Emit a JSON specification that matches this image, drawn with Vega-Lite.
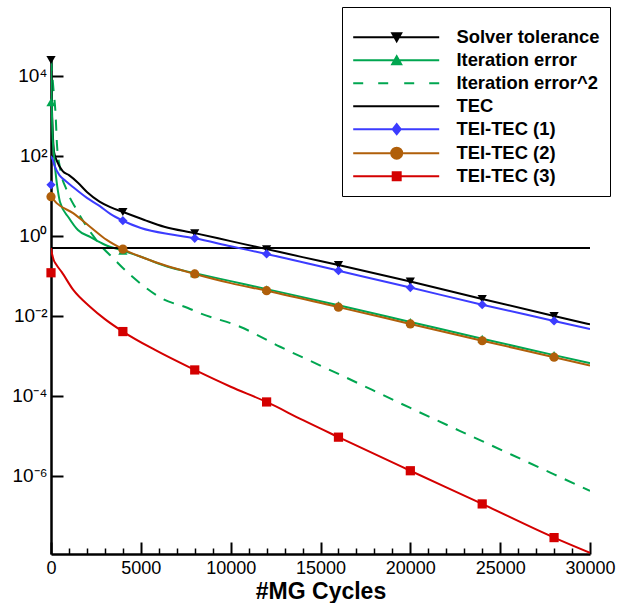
{
  "$schema": "https://vega.github.io/schema/vega-lite/v6.json",
  "width": 539,
  "height": 494,
  "autosize": "none",
  "padding": {"left": 51, "top": 60, "right": 31, "bottom": 49},
  "background": "white",
  "config": {
    "view": {"stroke": null},
    "font": "Liberation Sans",
    "axis": {
      "domainColor": "black", "domainWidth": 2.5, "tickColor": "black", "labelColor": "black",
      "titleColor": "black", "labelFont": "Liberation Sans", "labelFontSize": 18, "grid": false
    }
  },
  "datasets": {
    "lines": [
      {"s": "Solver tolerance", "x": 0, "y": 25000}, {"s": "Solver tolerance", "x": 40, "y": 2512},
      {"s": "Solver tolerance", "x": 100, "y": 355}, {"s": "Solver tolerance", "x": 170, "y": 126},
      {"s": "Solver tolerance", "x": 350, "y": 70.8}, {"s": "Solver tolerance", "x": 650, "y": 41.7},
      {"s": "Solver tolerance", "x": 1000, "y": 33.1}, {"s": "Solver tolerance", "x": 1500, "y": 21.4},
      {"s": "Solver tolerance", "x": 2000, "y": 12.6}, {"s": "Solver tolerance", "x": 2700, "y": 7.24},
      {"s": "Solver tolerance", "x": 3300, "y": 5.25}, {"s": "Solver tolerance", "x": 4000, "y": 3.98},
      {"s": "Solver tolerance", "x": 5200, "y": 2.51}, {"s": "Solver tolerance", "x": 6300, "y": 1.7},
      {"s": "Solver tolerance", "x": 8000, "y": 1.175}, {"s": "Solver tolerance", "x": 10000, "y": 0.741},
      {"s": "Solver tolerance", "x": 12000, "y": 0.468}, {"s": "Solver tolerance", "x": 14000, "y": 0.295},
      {"s": "Solver tolerance", "x": 16000, "y": 0.188}, {"s": "Solver tolerance", "x": 20000, "y": 0.0724},
      {"s": "Solver tolerance", "x": 24000, "y": 0.0266}, {"s": "Solver tolerance", "x": 28000, "y": 0.01},
      {"s": "Solver tolerance", "x": 30000, "y": 0.00617},

      {"s": "Iteration error", "x": 0, "y": 25000}, {"s": "Iteration error", "x": 30, "y": 3162},
      {"s": "Iteration error", "x": 60, "y": 794}, {"s": "Iteration error", "x": 100, "y": 251},
      {"s": "Iteration error", "x": 170, "y": 100}, {"s": "Iteration error", "x": 250, "y": 39.8},
      {"s": "Iteration error", "x": 350, "y": 17.0}, {"s": "Iteration error", "x": 500, "y": 7.08},
      {"s": "Iteration error", "x": 1000, "y": 2.82}, {"s": "Iteration error", "x": 1500, "y": 1.41},
      {"s": "Iteration error", "x": 2200, "y": 0.933}, {"s": "Iteration error", "x": 3000, "y": 0.603},
      {"s": "Iteration error", "x": 4000, "y": 0.427}, {"s": "Iteration error", "x": 5000, "y": 0.302},
      {"s": "Iteration error", "x": 6500, "y": 0.17}, {"s": "Iteration error", "x": 8000, "y": 0.1175},
      {"s": "Iteration error", "x": 10000, "y": 0.0741}, {"s": "Iteration error", "x": 12000, "y": 0.0468},
      {"s": "Iteration error", "x": 16000, "y": 0.0186}, {"s": "Iteration error", "x": 20000, "y": 0.00708},
      {"s": "Iteration error", "x": 24000, "y": 0.00269}, {"s": "Iteration error", "x": 28000, "y": 0.00105},
      {"s": "Iteration error", "x": 30000, "y": 0.00066},

      {"s": "Iteration error^2", "x": 0, "y": 25000}, {"s": "Iteration error^2", "x": 130, "y": 5012},
      {"s": "Iteration error^2", "x": 260, "y": 1000}, {"s": "Iteration error^2", "x": 330, "y": 200},
      {"s": "Iteration error^2", "x": 500, "y": 50.1}, {"s": "Iteration error^2", "x": 870, "y": 14.1},
      {"s": "Iteration error^2", "x": 1430, "y": 4.47}, {"s": "Iteration error^2", "x": 2350, "y": 1.0},
      {"s": "Iteration error^2", "x": 2730, "y": 0.6}, {"s": "Iteration error^2", "x": 3560, "y": 0.251},
      {"s": "Iteration error^2", "x": 4000, "y": 0.158}, {"s": "Iteration error^2", "x": 4950, "y": 0.0661},
      {"s": "Iteration error^2", "x": 6160, "y": 0.0275}, {"s": "Iteration error^2", "x": 7620, "y": 0.0158},
      {"s": "Iteration error^2", "x": 8290, "y": 0.01175}, {"s": "Iteration error^2", "x": 10520, "y": 0.00537},
      {"s": "Iteration error^2", "x": 12750, "y": 0.0017}, {"s": "Iteration error^2", "x": 16000, "y": 0.000355},
      {"s": "Iteration error^2", "x": 20000, "y": 0.0000501}, {"s": "Iteration error^2", "x": 24000, "y": 0.00000741},
      {"s": "Iteration error^2", "x": 28000, "y": 0.0000011}, {"s": "Iteration error^2", "x": 30000, "y": 0.000000422},

      {"s": "TEC", "x": 0, "y": 0.5}, {"s": "TEC", "x": 30000, "y": 0.5},

      {"s": "TEI-TEC (1)", "x": 0, "y": 100}, {"s": "TEI-TEC (1)", "x": 100, "y": 79.4},
      {"s": "TEI-TEC (1)", "x": 200, "y": 56.2}, {"s": "TEI-TEC (1)", "x": 500, "y": 31.6},
      {"s": "TEI-TEC (1)", "x": 800, "y": 24.0}, {"s": "TEI-TEC (1)", "x": 1200, "y": 17.0},
      {"s": "TEI-TEC (1)", "x": 2000, "y": 8.91}, {"s": "TEI-TEC (1)", "x": 2700, "y": 5.62},
      {"s": "TEI-TEC (1)", "x": 3300, "y": 3.55}, {"s": "TEI-TEC (1)", "x": 4000, "y": 2.4},
      {"s": "TEI-TEC (1)", "x": 5000, "y": 1.585}, {"s": "TEI-TEC (1)", "x": 6800, "y": 1.07},
      {"s": "TEI-TEC (1)", "x": 8000, "y": 0.871}, {"s": "TEI-TEC (1)", "x": 10000, "y": 0.55},
      {"s": "TEI-TEC (1)", "x": 12000, "y": 0.355}, {"s": "TEI-TEC (1)", "x": 16000, "y": 0.135},
      {"s": "TEI-TEC (1)", "x": 20000, "y": 0.0513}, {"s": "TEI-TEC (1)", "x": 24000, "y": 0.0191},
      {"s": "TEI-TEC (1)", "x": 28000, "y": 0.0075}, {"s": "TEI-TEC (1)", "x": 30000, "y": 0.00468},

      {"s": "TEI-TEC (2)", "x": 0, "y": 9.55}, {"s": "TEI-TEC (2)", "x": 315, "y": 6.61},
      {"s": "TEI-TEC (2)", "x": 1230, "y": 3.72}, {"s": "TEI-TEC (2)", "x": 2170, "y": 1.7},
      {"s": "TEI-TEC (2)", "x": 3100, "y": 0.794}, {"s": "TEI-TEC (2)", "x": 4000, "y": 0.468},
      {"s": "TEI-TEC (2)", "x": 5000, "y": 0.302}, {"s": "TEI-TEC (2)", "x": 6500, "y": 0.174},
      {"s": "TEI-TEC (2)", "x": 8000, "y": 0.112}, {"s": "TEI-TEC (2)", "x": 10000, "y": 0.0661},
      {"s": "TEI-TEC (2)", "x": 12000, "y": 0.0427}, {"s": "TEI-TEC (2)", "x": 16000, "y": 0.0166},
      {"s": "TEI-TEC (2)", "x": 20000, "y": 0.00631}, {"s": "TEI-TEC (2)", "x": 24000, "y": 0.0024},
      {"s": "TEI-TEC (2)", "x": 28000, "y": 0.000933}, {"s": "TEI-TEC (2)", "x": 30000, "y": 0.000575},

      {"s": "TEI-TEC (3)", "x": 0, "y": 0.5}, {"s": "TEI-TEC (3)", "x": 60, "y": 0.355},
      {"s": "TEI-TEC (3)", "x": 150, "y": 0.251}, {"s": "TEI-TEC (3)", "x": 300, "y": 0.19},
      {"s": "TEI-TEC (3)", "x": 590, "y": 0.126}, {"s": "TEI-TEC (3)", "x": 1240, "y": 0.0447},
      {"s": "TEI-TEC (3)", "x": 2170, "y": 0.017}, {"s": "TEI-TEC (3)", "x": 3000, "y": 0.00832},
      {"s": "TEI-TEC (3)", "x": 4000, "y": 0.00407}, {"s": "TEI-TEC (3)", "x": 5790, "y": 0.00141},
      {"s": "TEI-TEC (3)", "x": 8000, "y": 0.000447}, {"s": "TEI-TEC (3)", "x": 10000, "y": 0.00017},
      {"s": "TEI-TEC (3)", "x": 12000, "y": 0.0000708}, {"s": "TEI-TEC (3)", "x": 14000, "y": 0.0000251},
      {"s": "TEI-TEC (3)", "x": 16000, "y": 0.00000933}, {"s": "TEI-TEC (3)", "x": 20000, "y": 0.00000135},
      {"s": "TEI-TEC (3)", "x": 24000, "y": 0.0000002}, {"s": "TEI-TEC (3)", "x": 28000, "y": 0.0000000288},
      {"s": "TEI-TEC (3)", "x": 30000, "y": 0.000000012}
    ],
    "markers": [
      {"s": "Solver tolerance", "x": 0, "y": 25000}, {"s": "Solver tolerance", "x": 4000, "y": 3.98},
      {"s": "Solver tolerance", "x": 8000, "y": 1.175}, {"s": "Solver tolerance", "x": 12000, "y": 0.468},
      {"s": "Solver tolerance", "x": 16000, "y": 0.188}, {"s": "Solver tolerance", "x": 20000, "y": 0.0724},
      {"s": "Solver tolerance", "x": 24000, "y": 0.0266}, {"s": "Solver tolerance", "x": 28000, "y": 0.01},
      {"s": "Iteration error", "x": 0, "y": 2200}, {"s": "Iteration error", "x": 4000, "y": 0.427},
      {"s": "Iteration error", "x": 8000, "y": 0.1175}, {"s": "Iteration error", "x": 12000, "y": 0.0468},
      {"s": "Iteration error", "x": 16000, "y": 0.0186}, {"s": "Iteration error", "x": 20000, "y": 0.00708},
      {"s": "Iteration error", "x": 24000, "y": 0.00269}, {"s": "Iteration error", "x": 28000, "y": 0.00105},
      {"s": "TEI-TEC (1)", "x": 0, "y": 19}, {"s": "TEI-TEC (1)", "x": 4000, "y": 2.4},
      {"s": "TEI-TEC (1)", "x": 8000, "y": 0.871}, {"s": "TEI-TEC (1)", "x": 12000, "y": 0.355},
      {"s": "TEI-TEC (1)", "x": 16000, "y": 0.135}, {"s": "TEI-TEC (1)", "x": 20000, "y": 0.0513},
      {"s": "TEI-TEC (1)", "x": 24000, "y": 0.0191}, {"s": "TEI-TEC (1)", "x": 28000, "y": 0.0075},
      {"s": "TEI-TEC (2)", "x": 0, "y": 9.55}, {"s": "TEI-TEC (2)", "x": 4000, "y": 0.468},
      {"s": "TEI-TEC (2)", "x": 8000, "y": 0.112}, {"s": "TEI-TEC (2)", "x": 12000, "y": 0.0427},
      {"s": "TEI-TEC (2)", "x": 16000, "y": 0.0166}, {"s": "TEI-TEC (2)", "x": 20000, "y": 0.00631},
      {"s": "TEI-TEC (2)", "x": 24000, "y": 0.0024}, {"s": "TEI-TEC (2)", "x": 28000, "y": 0.000933},
      {"s": "TEI-TEC (3)", "x": 0, "y": 0.12}, {"s": "TEI-TEC (3)", "x": 4000, "y": 0.00407},
      {"s": "TEI-TEC (3)", "x": 8000, "y": 0.000447}, {"s": "TEI-TEC (3)", "x": 12000, "y": 0.0000708},
      {"s": "TEI-TEC (3)", "x": 16000, "y": 0.00000933}, {"s": "TEI-TEC (3)", "x": 20000, "y": 0.00000135},
      {"s": "TEI-TEC (3)", "x": 24000, "y": 0.0000002}, {"s": "TEI-TEC (3)", "x": 28000, "y": 0.0000000288}
    ]
  },
  "encoding": {
    "x": {
      "field": "x", "type": "quantitative",
      "scale": {"domain": [0, 30000], "nice": false, "zero": false},
      "axis": {
        "values": [0,1000,2000,3000,4000,5000,6000,7000,8000,9000,10000,11000,12000,13000,14000,15000,16000,17000,18000,19000,20000,21000,22000,23000,24000,25000,26000,27000,28000,29000,30000],
        "format": "d",
        "labelExpr": "datum.value % 5000 === 0 ? datum.label : ''",
        "tickSize": {"condition": {"test": "datum.value % 5000 === 0", "value": -12}, "value": -6},
        "tickWidth": {"condition": {"test": "datum.value % 5000 === 0", "value": 2}, "value": 1.5},
        "labelPadding": 17,
        "labelFlush": false,
        "labelOverlap": false,
        "title": "#MG Cycles", "titleFontSize": 23, "titleFontWeight": "bold", "titleFont": "Liberation Sans",
        "titlePadding": -3
      }
    },
    "y": {
      "field": "y", "type": "quantitative",
      "scale": {"type": "log", "domain": [1.12e-8, 25000], "nice": false},
      "axis": {
        "values": [0.000001, 0.0001, 0.01, 1, 100, 10000],
        "labelExpr": "datum.value > 5000 ? '10⁴' : datum.value > 50 ? '10²' : datum.value > 0.5 ? '10⁰' : datum.value > 0.005 ? '10⁻²' : datum.value > 0.00005 ? '10⁻⁴' : '10⁻⁶'",
        "tickSize": -12, "tickWidth": 2, "labelPadding": 16, "labelFontSize": 19,
        "labelOverlap": false, "labelFlush": false,
        "title": null
      }
    },
    "color": {
      "field": "s", "type": "nominal",
      "scale": {
        "domain": ["Solver tolerance", "Iteration error", "Iteration error^2", "TEC", "TEI-TEC (1)", "TEI-TEC (2)", "TEI-TEC (3)"],
        "range": ["#000000", "#00A650", "#00A650", "#000000", "#3C3CFF", "#B05F0A", "#D40000"]
      },
      "legend": null
    }
  },
  "resolve": {"legend": {"color": "independent"}},
  "layer": [
    {
      "data": {"name": "lines"},
      "transform": [{"filter": "datum.s === 'Iteration error^2'"}],
      "mark": {"type": "line", "strokeWidth": 2, "strokeDash": [11, 9], "interpolate": "monotone", "clip": true}
    },
    {
      "data": {"name": "lines"},
      "transform": [{"filter": "datum.s !== 'Iteration error^2'"}],
      "mark": {"type": "line", "strokeWidth": 2, "interpolate": "monotone", "clip": true},
      "encoding": {
        "color": {
          "field": "s", "type": "nominal",
          "legend": {
            "orient": "none", "legendX": 291, "legendY": -53,
            "title": " ", "titleFontSize": 10, "titlePadding": 1,
            "strokeColor": "black", "fillColor": "white", "padding": 10,
            "labelFont": "Liberation Sans", "labelFontSize": 18.4, "labelFontWeight": "bold", "labelColor": "black",
            "symbolSize": 4, "symbolStrokeWidth": 2, "labelOffset": 86, "rowPadding": 4, "labelLimit": 0,
            "values": ["Solver tolerance", "Iteration error", "Iteration error^2", "TEC", "TEI-TEC (1)", "TEI-TEC (2)", "TEI-TEC (3)"],
            "encoding": {
              "symbols": {
                "shape": {
                  "condition": [
                    {"test": "datum.value === 'Solver tolerance'", "value": "M-8,0H78M31,-4L40,-4L35.5,4Z"},
                    {"test": "datum.value === 'Iteration error'", "value": "M-8,0H78M31,4L40,4L35.5,-4Z"},
                    {"test": "datum.value === 'Iteration error^2'", "value": "M-8,0H2M17,0H27M43,0H53M68,0H78"},
                    {"test": "datum.value === 'TEI-TEC (1)'", "value": "M-8,0H78M35.5,-5L39.5,0L35.5,5L31.5,0Z"},
                    {"test": "datum.value === 'TEI-TEC (2)'", "value": "M-8,0H78M41,0A5.5,5.5,0,1,1,30,0A5.5,5.5,0,1,1,41,0Z"},
                    {"test": "datum.value === 'TEI-TEC (3)'", "value": "M-8,0H78M31.5,-4H39.5V4H31.5Z"}
                  ],
                  "value": "M-8,0H78"
                },
                "fill": {"value": {"expr": "scale('color', datum.value)"}}
              }
            }
          }
        }
      }
    },
    {
      "data": {"name": "markers"},
      "mark": {"type": "point", "filled": true, "opacity": 1},
      "encoding": {
        "shape": {
          "field": "s", "type": "nominal",
          "scale": {
            "domain": ["Solver tolerance", "Iteration error", "TEI-TEC (1)", "TEI-TEC (2)", "TEI-TEC (3)"],
            "range": ["triangle-down", "triangle-up", "diamond", "circle", "square"]
          },
          "legend": null
        },
        "size": {
          "field": "s", "type": "nominal",
          "scale": {
            "domain": ["Solver tolerance", "Iteration error", "TEI-TEC (1)", "TEI-TEC (2)", "TEI-TEC (3)"],
            "range": [85, 85, 115, 110, 75]
          },
          "legend": null
        }
      }
    }
  ]
}
